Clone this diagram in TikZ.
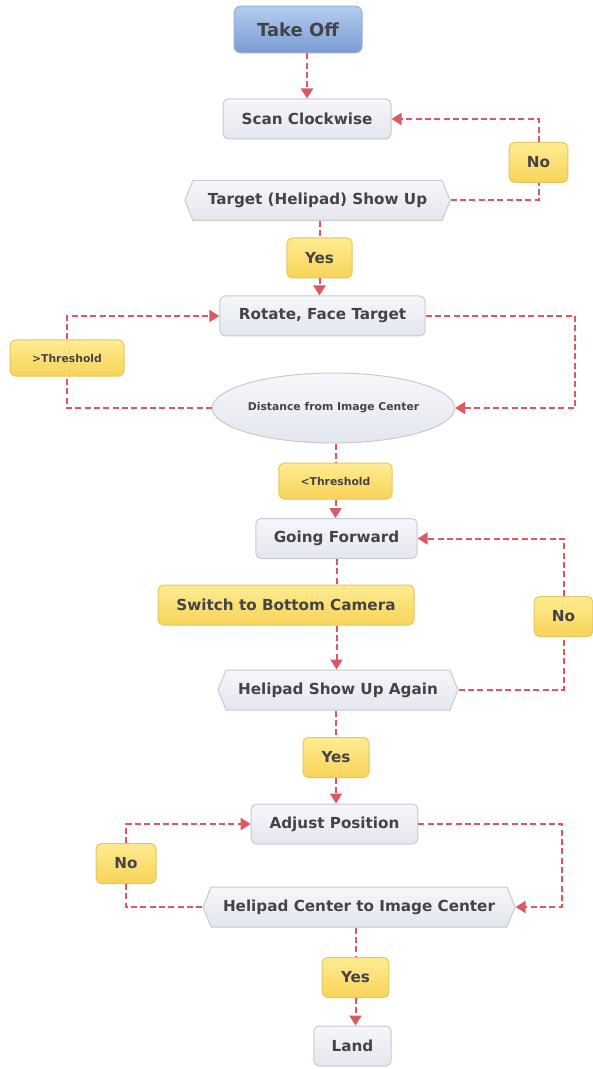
\documentclass[tikz,border=0pt]{standalone}
\usepackage{fontspec}
\setmainfont{DejaVu Sans}
\usetikzlibrary{arrows.meta,shapes.geometric,shapes.symbols}

\definecolor{flowred}{RGB}{220,88,98}
\definecolor{boxtop}{RGB}{246,247,251}
\definecolor{boxbot}{RGB}{228,230,238}
\definecolor{boxline}{RGB}{200,202,208}
\definecolor{yeltop}{RGB}{254,236,146}
\definecolor{yelbot}{RGB}{248,211,88}
\definecolor{yelline}{RGB}{228,198,98}
\definecolor{bluetop}{RGB}{180,204,240}
\definecolor{bluebot}{RGB}{122,156,212}
\definecolor{blueline}{RGB}{152,174,212}
\definecolor{txt}{RGB}{68,68,72}

\tikzset{every picture/.style={line width=0.75pt}}
\tikzset{
  bigtext/.style={font=\fontsize{11.4}{13}\selectfont\bfseries, text=txt},
  smalltext/.style={font=\fontsize{8.1}{10}\selectfont\bfseries, text=txt},
  procbox/.style={draw=boxline, top color=boxtop, bottom color=boxbot, rounded corners=4pt, minimum height=30pt, inner sep=0pt, bigtext},
  startbox/.style={draw=blueline, top color=bluetop, bottom color=bluebot, rounded corners=5pt, minimum width=96pt, minimum height=35pt, inner sep=0pt, font=\fontsize{13.5}{16}\selectfont\bfseries, text=txt},
  labelbox/.style={draw=yelline, top color=yeltop, bottom color=yelbot, rounded corners=4pt, minimum height=30pt, inner sep=0pt, bigtext},
  decbox/.style={draw=boxline, top color=boxtop, bottom color=boxbot, shape=signal, signal to=west and east, signal pointer angle=136, minimum height=30pt, inner sep=0pt, bigtext},
  ellbox/.style={draw=boxline, top color=boxtop, bottom color=boxbot, shape=ellipse, minimum width=179pt, minimum height=52.5pt, inner sep=0pt, smalltext},
  flowline/.style={draw=flowred, line width=1.5pt, dash pattern=on 4.5pt off 2.5pt},
  flow/.style={flowline, -{Triangle[length=7.5pt,width=9pt]}}
}

\begin{document}
\begin{tikzpicture}[x=0.75pt,y=0.75pt,yscale=-1,xscale=1]
\useasboundingbox (0,0) rectangle (592,1069);

% Start Node
\node (takeoff) at (298,29.5) [startbox] {Take Off};
% Process Node
\node (scan) at (307,119) [procbox, minimum width=126pt] {Scan Clockwise};
% Decision Node
\node (target) at (317.5,200.5) [decbox, minimum width=199pt] {Target (Helipad) Show Up};
% Label Node
\node (no1) at (538.5,162.5) [labelbox, minimum width=44pt] {No};
% Label Node
\node (yes1) at (319.5,258) [labelbox, minimum width=49pt] {Yes};
% Process Node
\node (rotate) at (322.5,316) [procbox, minimum width=154pt] {Rotate, Face Target};
% Decision Node
\node (dist) at (333.5,408) [ellbox] {Distance from Image Center};
% Label Node
\node (gt) at (67,358) [labelbox, smalltext, minimum width=85.5pt, minimum height=27pt] {>Threshold};
% Label Node
\node (lt) at (335.5,481) [labelbox, smalltext, minimum width=85pt, minimum height=27pt] {<Threshold};
% Process Node
\node (going) at (336.5,538.5) [procbox, minimum width=121pt] {Going Forward};
% Label Node
\node (switch) at (286,605) [labelbox, minimum width=192pt] {Switch to Bottom Camera};
% Decision Node
\node (again) at (338,690) [decbox, minimum width=180pt] {Helipad Show Up Again};
% Label Node
\node (no2) at (563.5,616.5) [labelbox, minimum width=44pt] {No};
% Label Node
\node (yes2) at (336,757.5) [labelbox, minimum width=49.5pt] {Yes};
% Process Node
\node (adjust) at (334.5,824) [procbox, minimum width=125pt] {Adjust Position};
% Decision Node
\node (center) at (359,907) [decbox, minimum width=234pt] {Helipad Center to Image Center};
% Label Node
\node (no3) at (126,863.5) [labelbox, minimum width=45pt] {No};
% Label Node
\node (yes3) at (355.5,977.5) [labelbox, minimum width=50pt] {Yes};
% Process Node
\node (land) at (352.5,1046) [procbox, minimum width=58pt] {Land};

% Bend Points
\coordinate (rr1) at (575,316);
\coordinate (rr2) at (562,824);

%Connectors
\draw [flow] (takeoff.south -| scan.north) -- (scan.north);
\draw [flowline] (target.east) -| (no1.south);
\draw [flow] (no1.north) |- (scan.east);
\draw [flowline] (yes1.north |- target.south) -- (yes1.north);
\draw [flow] (yes1.south) -- (yes1.south |- rotate.north);
\draw [flow] (rotate.east) -- (rotate.east -| rr1) |- (dist.east);
\draw [flowline] (dist.west) -| (gt.south);
\draw [flow] (gt.north) |- (rotate.west);
\draw [flowline] (lt.north |- dist.south) -- (lt.north);
\draw [flow] (lt.south) -- (lt.south |- going.north);
\draw [flowline] (going.south) -- (going.south |- switch.north);
\draw [flow] (switch.south -| going.south) -- (going.south |- again.north);
\draw [flowline] (again.east) -| (no2.south);
\draw [flow] (no2.north) |- (going.east);
\draw [flowline] (yes2.north |- again.south) -- (yes2.north);
\draw [flow] (yes2.south) -- (yes2.south |- adjust.north);
\draw [flow] (adjust.east) -- (adjust.east -| rr2) |- (center.east);
\draw [flowline] (center.west) -| (no3.south);
\draw [flow] (no3.north) |- (adjust.west);
\draw [flowline] (yes3.north |- center.south) -- (yes3.north);
\draw [flow] (yes3.south) -- (yes3.south |- land.north);
\end{tikzpicture}
\end{document}
